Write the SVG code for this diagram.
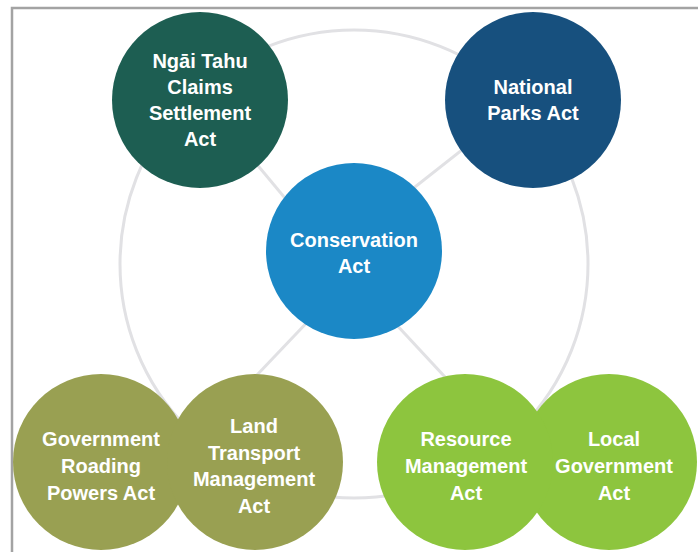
<svg xmlns="http://www.w3.org/2000/svg" width="698" height="552" viewBox="0 0 698 552">
<style>
.t{font-family:"Liberation Sans",Arial,sans-serif;font-weight:bold;font-size:20px;fill:#ffffff;text-anchor:middle}
.c{stroke:none}
</style>
<rect x="0" y="0" width="698" height="552" fill="#ffffff"/>
<rect x="12" y="8" width="700" height="560" fill="none" stroke="#a3a3a3" stroke-width="2.5"/>
<g id="connectors" fill="none" stroke="#e1e1e4" stroke-width="3">
<circle cx="354" cy="264" r="234"/>
<line x1="200" y1="96" x2="354" y2="281"/>
<line x1="533" y1="94" x2="354" y2="235"/>
<line x1="354" y1="273" x2="176" y2="460"/>
<line x1="354" y1="279" x2="522" y2="460"/>
</g>
<g id="n-ngai-tahu">
<circle class="c" cx="200" cy="100" r="88" fill="#1d5e52"/>
<text class="t" x="200" y="68">Ngāi Tahu</text>
<text class="t" x="200" y="94">Claims</text>
<text class="t" x="200" y="120">Settlement</text>
<text class="t" x="200" y="146">Act</text>
</g>
<g id="n-national-parks">
<circle class="c" cx="533" cy="100" r="88" fill="#17507e"/>
<text class="t" x="533" y="94">National</text>
<text class="t" x="533" y="120">Parks Act</text>
</g>
<g id="n-conservation">
<circle class="c" cx="354" cy="251" r="88" fill="#1b88c6"/>
<text class="t" x="354" y="247">Conservation</text>
<text class="t" x="354" y="273">Act</text>
</g>
<g id="n-gov-roading">
<circle class="c" cx="101" cy="462" r="88" fill="#99a052"/>
<text class="t" x="101" y="446">Government</text>
<text class="t" x="101" y="473">Roading</text>
<text class="t" x="101" y="500">Powers Act</text>
</g>
<g id="n-land-transport">
<circle class="c" cx="255" cy="462" r="88" fill="#99a052"/>
<text class="t" x="254" y="433">Land</text>
<text class="t" x="254" y="460">Transport</text>
<text class="t" x="254" y="486">Management</text>
<text class="t" x="254" y="513">Act</text>
</g>
<g id="n-local-government">
<circle class="c" cx="609" cy="462" r="88" fill="#8dc53e"/>
<text class="t" x="614" y="446">Local</text>
<text class="t" x="614" y="473">Government</text>
<text class="t" x="614" y="500">Act</text>
</g>
<g id="n-resource-management">
<circle class="c" cx="465" cy="462" r="88" fill="#8dc53e"/>
<text class="t" x="466" y="446">Resource</text>
<text class="t" x="466" y="473">Management</text>
<text class="t" x="466" y="500">Act</text>
</g>
</svg>
